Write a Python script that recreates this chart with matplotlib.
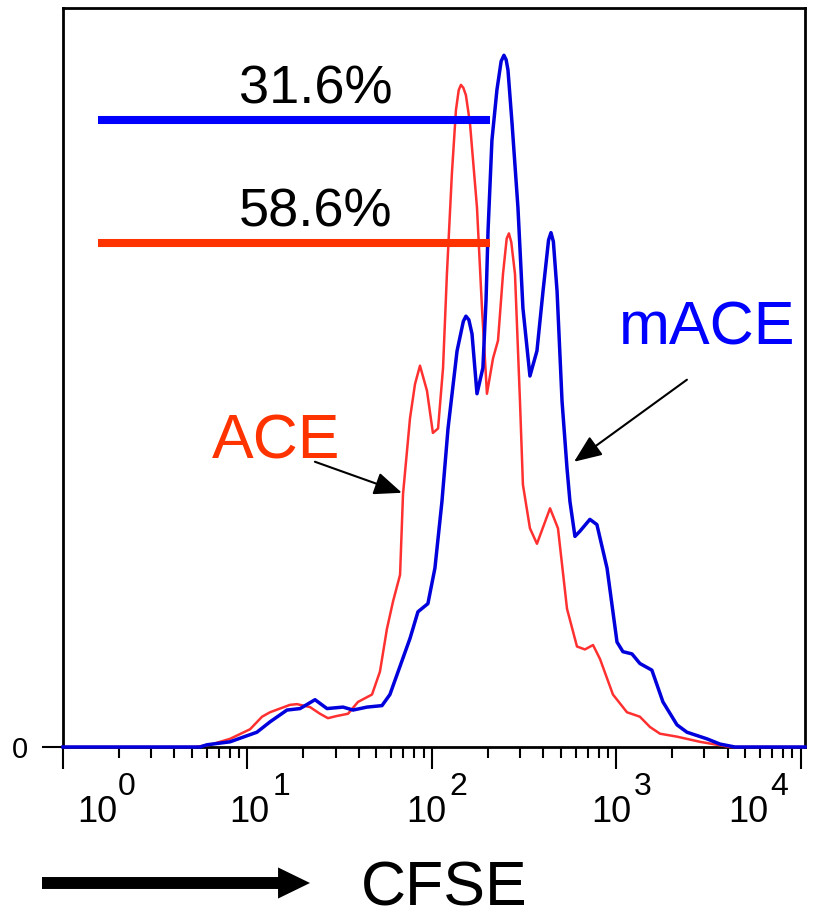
import matplotlib
matplotlib.use('Agg')
import matplotlib.pyplot as plt
import numpy as np

plt.rcParams['font.family'] = ['Liberation Sans', 'DejaVu Sans']

# CFSE histogram (log10 of CFSE intensity, count in % of max)
ace_log = [0.00, 0.715, 0.797, 0.905, 1.014, 1.079, 1.122, 1.230, 1.268, 1.339, 1.393,
           1.436, 1.485, 1.545, 1.599, 1.675, 1.718, 1.756, 1.789, 1.827, 1.843, 1.881,
           1.908, 1.935, 1.973, 2.005, 2.033, 2.060, 2.081, 2.108, 2.130, 2.145, 2.157, 2.170, 2.184,
           2.206, 2.244, 2.271, 2.298, 2.331, 2.358, 2.385, 2.405, 2.417, 2.430, 2.450, 2.477, 2.493,
           2.531, 2.569, 2.640, 2.683, 2.732, 2.786, 2.829, 2.873, 2.911, 2.981, 3.057,
           3.127, 3.182, 3.236, 3.328, 3.453, 3.523, 3.615, 4.022]
ace_count = [0, 0, 0.3, 1.1, 2.4, 4.1, 4.7, 5.7, 5.8, 5.4, 4.5,
             3.9, 4.2, 4.5, 6.1, 7.1, 10.2, 16.0, 19.7, 23.3, 34.2, 44.5,
             49.1, 51.6, 48.2, 42.5, 43.1, 51.3, 64.0, 77.6, 86.2, 88.9, 89.6, 89.2, 88.2,
             84.4, 73.0, 59.4, 47.8, 52.6, 55.0, 64.0, 68.8, 69.5, 68.3, 64.0, 46.8, 35.5,
             29.6, 27.5, 32.3, 29.6, 18.7, 13.6, 13.2, 13.8, 11.9, 7.1, 4.7,
             4.1, 2.7, 1.8, 1.4, 0.7, 0.4, 0, 0]

mace_log = [0.00, 0.743, 0.780, 0.905, 1.051, 1.122, 1.214, 1.285, 1.366, 1.431, 1.518,
            1.572, 1.648, 1.729, 1.772, 1.881, 1.924, 1.978, 2.016, 2.054, 2.087, 2.136,
            2.170, 2.184, 2.200, 2.217, 2.244, 2.276, 2.293, 2.304, 2.325, 2.352, 2.375, 2.390, 2.402, 2.412, 2.434,
            2.466, 2.493, 2.531, 2.569, 2.602, 2.632, 2.645, 2.658, 2.678, 2.705, 2.732, 2.748, 2.775,
            2.802, 2.856, 2.894, 2.949, 3.003, 3.035, 3.084, 3.127, 3.192, 3.252, 3.328,
            3.382, 3.491, 3.561, 3.642, 4.022]
mace_count = [0, 0, 0.3, 0.7, 2.0, 3.4, 5.0, 5.2, 6.4, 5.2, 5.4,
              5.0, 5.4, 5.6, 7.1, 14.7, 18.3, 19.4, 24.2, 33.2, 43.1, 53.6,
              57.6, 58.3, 57.8, 55.9, 47.8, 51.3, 60.4, 69.9, 82.1, 88.9, 92.8, 93.6, 93.0, 91.6, 84.4,
              73.0, 59.4, 50.2, 53.6, 61.7, 68.6, 69.6, 68.4, 61.7, 46.8, 37.7, 33.2, 28.5,
              29.2, 30.8, 30.1, 24.2, 14.2, 12.9, 12.6, 11.3, 10.4, 6.1, 3.0,
              2.0, 1.1, 0.4, 0, 0]

# divided-cell gates
gate_lo = 1.55
gate_hi = 206
gate_labels = ['31.6%', '58.6%']
gate_levels = [84.9, 68.2]
gate_text_y = [87.1, 70.4]
gate_text_x = 23.3

decades = [0, 1, 2, 3, 4]
# label offsets (points) for "10" and its exponent, per decade
base_dx = [24.5, 1.0, -4.0, -3.6, -38.0]
exp_dx = [39.6, 18.0, 12.2, 12.2, -22.3]
tick_font = ['Liberation Sans Narrow', 'Liberation Sans', 'DejaVu Sans']

fig = plt.figure(figsize=(8.17, 9.17), dpi=100)
ax = fig.add_axes([63 / 817, 170 / 917, 742 / 817, 739 / 917])

ax.plot(10 ** np.array(ace_log), ace_count, color='#FF3030', lw=1.8, zorder=3, clip_on=False)
ax.plot(10 ** np.array(mace_log), mace_count, color='#0000DD', lw=2.5, zorder=4, clip_on=False)

ax.hlines(gate_levels[0], gate_lo, gate_hi, color='#0000FF', lw=5.8, zorder=5)
ax.hlines(gate_levels[1], gate_lo, gate_hi, color='#FF3300', lw=5.8, zorder=5)
for lab, ty in zip(gate_labels, gate_text_y):
    ax.text(gate_text_x, ty, lab, ha='center', va='baseline', fontsize=39, color='black')

ax.set_xscale('log')
ax.set_xlim(1, 10 ** 4.022)
ax.set_ylim(0, 100)

# population labels with arrows
ax.text(14.3, 39.1, 'ACE', ha='center', va='baseline', fontsize=45, color='#FF3300')
ax.text(3090, 54.4, 'mACE', ha='center', va='baseline', fontsize=44, color='#0000FF')
arrow_kw = dict(arrowstyle='-|>,head_length=1.7,head_width=0.7', color='black', lw=1.5,
                shrinkA=0, shrinkB=0)
ax.annotate('', xy=(68.7, 34.4), xytext=(23.2, 38.6), arrowprops=arrow_kw)
ax.annotate('', xy=(589, 38.6), xytext=(2410, 49.7), arrowprops=arrow_kw)

for s in ax.spines.values():
    s.set_linewidth(2.0)

ax.set_xticks([10 ** d for d in decades])
ax.set_xticklabels([])
ax.tick_params(axis='x', which='major', direction='out', length=16, width=1.5)
ax.tick_params(axis='x', which='minor', direction='out', length=8, width=1.5, labelbottom=False)
ax.set_yticks([0])
ax.set_yticklabels(['0'], family=tick_font)
ax.tick_params(axis='y', direction='out', length=15, width=1.5, pad=10, labelsize=21)

tr = ax.get_xaxis_transform()
for d, bdx, edx in zip(decades, base_dx, exp_dx):
    ax.annotate('10', xy=(10 ** d, 0), xycoords=tr, xytext=(bdx, -54), textcoords='offset points',
                ha='center', va='baseline', fontsize=26, family=tick_font, annotation_clip=False)
    ax.annotate(str(d), xy=(10 ** d, 0), xycoords=tr, xytext=(edx, -34.6), textcoords='offset points',
                ha='left', va='baseline', fontsize=23, family=tick_font, annotation_clip=False)

# axis title with arrow
fig.text(444.5 / 817, 1 - 905 / 917, 'CFSE', ha='center', va='baseline', fontsize=45)
ax.annotate('', xy=(310, 34), xytext=(42, 34), xycoords='figure pixels', textcoords='figure pixels',
            arrowprops=dict(arrowstyle='simple,head_length=1.15,head_width=1.12,tail_width=0.43',
                            mutation_scale=20, fc='black', ec='none', lw=0, shrinkA=0, shrinkB=0),
            annotation_clip=False)

fig.savefig('out.png', dpi=100)
